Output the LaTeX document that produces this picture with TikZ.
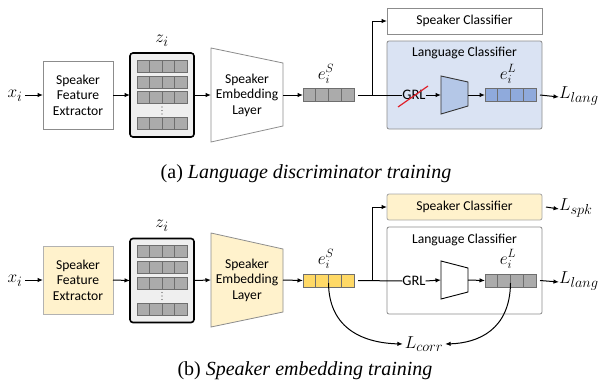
\documentclass[tikz,border=0pt]{standalone}
\usepackage{fontspec}
\setmainfont{Carlito}
\newfontfamily\capfont{Liberation Serif}
\usetikzlibrary{arrows.meta}
\definecolor{ylwbg}{HTML}{FFF2CC}
\definecolor{ylwcell}{HTML}{FFD966}
\definecolor{bluebg}{HTML}{DAE3F3}
\definecolor{bluetrap}{HTML}{B4C7E7}
\definecolor{bluecell}{HTML}{8FAADC}
\definecolor{graycell}{HTML}{ABABAB}
\definecolor{cellline}{HTML}{6E6E6E}
\definecolor{framegray}{HTML}{8C8C8C}
\definecolor{zbg}{HTML}{EFEFEF}
\definecolor{strike}{HTML}{E0202A}

% one embedding vector of four cells: name, left, top, fill
\newcommand\embvec[4]{%
  \node[vecbox, fill=#4, anchor=north west] (#1) at (#2,#3) {};
  \foreach \k in {1,2,3}
    \draw[cellline, line width=0.8pt] ([xshift=\k*12.75pt]#1.north west) -- ([xshift=\k*12.75pt]#1.south west);
}
% one row of the z_i grid: name, left, top
\newcommand\zrow[3]{%
  \node[zrowbox, anchor=north west] (#1) at (#2,#3) {};
  \foreach \k in {1,2,3}
    \draw[cellline, line width=0.8pt] ([xshift=\k*12.5pt]#1.north west) -- ([xshift=\k*12.5pt]#1.south west);
}
% the vertical ellipsis between grid rows: name, centre x, centre y
\newcommand\zdots[3]{%
  \coordinate (#1) at (#2,#3);
  \foreach \d in {-3.5,0,3.5}
    \fill[black!70] ([yshift=\d pt]#1) circle (0.65pt);
}

\begin{document}
\begin{tikzpicture}[x=1pt, y=-1pt,
  every node/.style={inner sep=0pt, outer sep=0pt},
  txt/.style={font=\fontsize{13.6}{15.5}\selectfont, align=center},
  mth/.style={font=\fontsize{19}{19}\selectfont},
  emb/.style={font=\fontsize{16.5}{16.5}\selectfont},
  arr/.style={-{Latex[length=5.5pt,width=4.5pt]}, line width=1pt},
  plain/.style={line width=1pt},
  greybox/.style={draw=framegray, line width=0.8pt},
  vecbox/.style={draw=cellline, line width=0.8pt, minimum width=51pt, minimum height=13pt},
  zrowbox/.style={draw=cellline, fill=graycell, line width=0.8pt, minimum width=50pt, minimum height=12pt},
  zbox/.style={draw=black, fill=zbg, line width=1.6pt, rounded corners=3pt, minimum width=64pt, minimum height=84pt},
  trap/.style={draw=framegray, line width=0.8pt},
  captxt/.style={font=\capfont\fontsize{20}{20}\selectfont}
]
\useasboundingbox (0,0) rectangle (601,386);

%================ (a) language discriminator training ================
\node[mth] (xa) at (15,96) {$x_i$};
\node[greybox, fill=white, minimum width=70pt, minimum height=68pt] (sfea) at (78,95) {};
\node[txt] at (sfea) {Speaker\\Feature\\Extractor};
\node[zbox] (za) at (162,95) {};
\node[mth] (zla) at (162,41) {$z_i$};
\zrow{za1}{137}{60}
\zrow{za2}{137}{76}
\zrow{za3}{137}{91.5}
\zdots{zda}{162}{110.5}
\zrow{za4}{137}{117}
\draw[trap, fill=white] (211,48) -- (283,63) -- (283,126) -- (211,142) -- cycle;
\coordinate (sela) at (211,95);
\coordinate (sera) at (283,95);
\node[txt] (sema) at (247,95) {Speaker\\Embedding\\Layer};
\embvec{esa}{303}{88.5}{graycell}
\node[emb] (esla) at (326,74) {$e_i^S$};

\node[greybox, fill=white, minimum width=155pt, minimum height=26pt] (spka) at (464.5,21) {};
\node[txt] at (spka) {Speaker Classifier};
\node[greybox, fill=bluebg, rounded corners=2pt, minimum width=155pt, minimum height=88pt] (lnga) at (464.5,85) {};
\node[txt] at (464.5,53) {Language Classifier};
\node[txt, font=\fontsize{14.5}{14.5}\selectfont] (grla) at (414,95) {GRL};
\draw[strike, line width=1.2pt] (398,107) -- (428,86);
\draw[draw=black!80, fill=bluetrap, line width=0.9pt] (441,76) -- (468,82) -- (468,106) -- (441,114) -- cycle;
\coordinate (tla) at (441,95);
\coordinate (tra) at (468,95);
\embvec{ela}{485}{88.5}{bluecell}
\node[emb] (ella) at (508,74) {$e_i^L$};
\node[mth, anchor=west] (langa) at (559,96) {$L_{lang}$};

\draw[arr] (xa.east) ++(3,-1) -- (sfea.west);
\draw[arr] (sfea.east) -- (za.west);
\draw[arr] (za.east) -- (sela);
\draw[arr] (sera) -- (esa.west);
\draw[plain] ([xshift=4pt]esa.east) -- (grla.west);
\draw[arr] (372,95) |- (spka.west);
\draw[arr] (grla.east) -- (tla);
\draw[arr] (tra) -- (ela.west);
\draw[arr] ([xshift=4pt]ela.east) -- ([yshift=-1pt]langa.west);

\node[captxt] (capa) at (306,174) {(a) \textit{Language discriminator training}};

%================ (b) speaker embedding training ================
\node[mth] (xb) at (15,281) {$x_i$};
\node[greybox, draw=black!30, fill=ylwbg, minimum width=70pt, minimum height=68pt] (sfeb) at (78,280) {};
\node[txt] at (sfeb) {Speaker\\Feature\\Extractor};
\node[zbox] (zb) at (162,280.5) {};
\node[mth] (zlb) at (162,226) {$z_i$};
\zrow{zb1}{137}{245}
\zrow{zb2}{137}{261}
\zrow{zb3}{137}{277}
\zdots{zdb}{162}{296}
\zrow{zb4}{137}{303}
\draw[trap, fill=ylwbg] (211,233) -- (283,249) -- (283,312) -- (211,327) -- cycle;
\coordinate (selb) at (211,280);
\coordinate (serb) at (283,280);
\node[txt] (semb) at (247,280) {Speaker\\Embedding\\Layer};
\embvec{esb}{303}{274}{ylwcell}
\node[emb] (eslb) at (326,259) {$e_i^S$};

\node[greybox, draw=black!35, fill=ylwbg, rounded corners=2pt, minimum width=155pt, minimum height=26pt] (spkb) at (464.5,207) {};
\node[txt] at (spkb) {Speaker Classifier};
\node[mth, anchor=west] (spkl) at (559,208) {$L_{spk}$};
\node[greybox, fill=white, rounded corners=2pt, minimum width=155pt, minimum height=87pt] (lngb) at (464.5,270.5) {};
\node[txt] at (464.5,240) {Language Classifier};
\node[txt, font=\fontsize{14.5}{14.5}\selectfont] (grlb) at (414,281) {GRL};
\draw[draw=black, fill=white, line width=0.9pt] (441,261) -- (468,268) -- (468,292) -- (441,299) -- cycle;
\coordinate (tlb) at (441,280);
\coordinate (trb) at (468,280);
\embvec{elb}{485}{274}{graycell}
\node[emb] (ellb) at (508,259) {$e_i^L$};
\node[mth, anchor=west] (langb) at (559,281) {$L_{lang}$};
\node[mth] (corr) at (424,344) {$L_{corr}$};

\draw[arr] (xb.east) ++(3,-1) -- (sfeb.west);
\draw[arr] (sfeb.east) -- (zb.west);
\draw[arr] (zb.east) -- (selb);
\draw[arr] (serb) -- (esb.west);
\draw[plain] ([xshift=4pt]esb.east) -- (grlb.west);
\draw[arr] (372,280) |- (spkb.west);
\draw[arr] ([xshift=4pt]spkb.east) -- ([yshift=-1pt]spkl.west);
\draw[arr] (grlb.east) -- (tlb);
\draw[arr] (trb) -- (elb.west);
\draw[arr] ([xshift=4pt]elb.east) -- ([yshift=-1pt]langb.west);
\draw[arr] ([yshift=4pt]esb.south) .. controls (329,330) and (365,343) .. ([xshift=-2pt]corr.west);
\draw[arr] ([yshift=4pt]elb.south) .. controls (510,330) and (478,343) .. ([xshift=2pt]corr.east);

\node[captxt] (capb) at (305,371) {(b) \textit{Speaker embedding training}};
\end{tikzpicture}
\end{document}
